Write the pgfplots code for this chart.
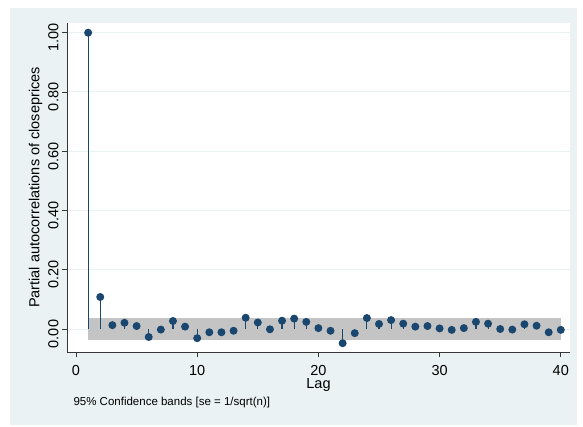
\documentclass[border=0pt]{standalone}
\usepackage{pgfplots}
\pgfplotsset{compat=1.18}
\usepackage{fontspec}
\setmainfont{Liberation Sans}
\definecolor{bgc}{RGB}{234,242,243}
\definecolor{navy}{RGB}{26,71,111}
\definecolor{band}{RGB}{196,196,196}
\definecolor{axc}{RGB}{55,55,55}
\pgfplotstableread{
lag pac
1 1.000
2 0.108
3 0.013
4 0.021
5 0.010
6 -0.027
7 -0.002
8 0.027
9 0.008
10 -0.031
11 -0.011
12 -0.011
13 -0.006
14 0.038
15 0.022
16 -0.001
17 0.028
18 0.035
19 0.024
20 0.003
21 -0.006
22 -0.048
23 -0.014
24 0.037
25 0.017
26 0.030
27 0.018
28 0.008
29 0.010
30 0.002
31 -0.003
32 0.003
33 0.024
34 0.018
35 0.000
36 -0.002
37 0.016
38 0.011
39 -0.011
40 -0.003
}\pacdata
\begin{document}
\begin{tikzpicture}
\fill[white] (0pt,0pt) rectangle (583pt,427pt);
\fill[bgc] (10pt,2pt) rectangle (577pt,419pt);
\useasboundingbox (0pt,0pt) rectangle (583pt,427pt);
\begin{axis}[
  at={(67pt,75pt)}, anchor=south west,
  scale only axis, width=503pt, height=329pt,
  xmin=-0.743, xmax=40.76, ymin=-0.0776, ymax=1.0327,
  axis x line=bottom, axis y line=left,
  axis line style={-, draw=axc, line width=0.8pt},
  axis background/.style={fill=white},
  tick align=outside, major tick length=5pt,
  tick style={draw=axc, line width=0.8pt},
  xtick={0,10,20,30,40}, ytick={0,0.2,0.4,0.6,0.8,1},
  ymajorgrids, grid style={bgc, line width=0.9pt},
  /pgf/number format/assume math mode=true,
  ticklabel style={font=\fontsize{14.5}{15}\selectfont},
  xticklabel style={yshift=-5pt},
  yticklabel style={rotate=90, anchor=south, xshift=-5pt, /pgf/number format/.cd, fixed, fixed zerofill, precision=2},
  xlabel={Lag}, ylabel={Partial autocorrelations of closeprices},
  label style={font=\fontsize{14.5}{15}\selectfont},
  xlabel style={yshift=4pt},
  ylabel style={yshift=-1pt},
]
\addplot[fill=band, draw=none] coordinates {(1,0.0355) (40,0.0355) (40,-0.0355) (1,-0.0355)} -- cycle;
\addplot[ycomb, navy, line width=1.1pt, mark=*, mark size=3.4pt, mark options={fill=navy, draw=navy}] table[x=lag, y=pac] {\pacdata};
\end{axis}
\node[anchor=base west, font=\fontsize{11.5}{12}\selectfont] at (70pt,21.3pt) {95\% Confidence bands [se = 1/sqrt(n)]};
\end{tikzpicture}
\end{document}
